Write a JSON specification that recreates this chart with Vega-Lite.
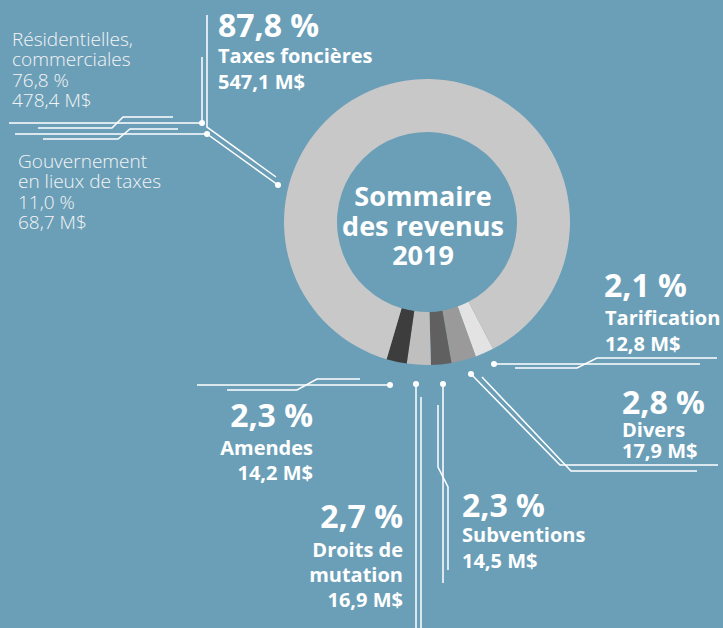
{
  "$schema": "https://vega.github.io/schema/vega-lite/v6.json",
  "width": 592,
  "height": 444,
  "autosize": {"type": "none"},
  "padding": {"left": 131, "top": 0, "right": 0, "bottom": 184},
  "background": "#6b9fb8",
  "config": {"view": {"stroke": null}, "font": "Open Sans"},
  "datasets": {
    "slices": [
      {"k": 1, "cat": "Tarification", "pct": 2.1, "musd": 12.8},
      {"k": 2, "cat": "Divers", "pct": 2.8, "musd": 17.9},
      {"k": 3, "cat": "Subventions", "pct": 2.3, "musd": 14.5},
      {"k": 4, "cat": "Droits de mutation", "pct": 2.7, "musd": 16.9},
      {"k": 5, "cat": "Amendes", "pct": 2.3, "musd": 14.2},
      {"k": 6, "cat": "Taxes foncières", "pct": 87.8, "musd": 547.1}
    ],
    "paths": [
      {"p": 1, "i": 1, "x": 207, "y": 15}, {"p": 1, "i": 2, "x": 207, "y": 127}, {"p": 1, "i": 3, "x": 276, "y": 177},
      {"p": 2, "i": 1, "x": 202, "y": 57}, {"p": 2, "i": 2, "x": 202, "y": 123},
      {"p": 3, "i": 1, "x": 9, "y": 123}, {"p": 3, "i": 2, "x": 202, "y": 123},
      {"p": 4, "i": 1, "x": 15, "y": 134}, {"p": 4, "i": 2, "x": 207, "y": 134}, {"p": 4, "i": 3, "x": 278, "y": 185},
      {"p": 5, "i": 1, "x": 38, "y": 128}, {"p": 5, "i": 2, "x": 112, "y": 128}, {"p": 5, "i": 3, "x": 123, "y": 117}, {"p": 5, "i": 4, "x": 173, "y": 117},
      {"p": 6, "i": 1, "x": 43, "y": 139}, {"p": 6, "i": 2, "x": 118, "y": 139}, {"p": 6, "i": 3, "x": 130, "y": 129}, {"p": 6, "i": 4, "x": 178, "y": 129},
      {"p": 7, "i": 1, "x": 494, "y": 364}, {"p": 7, "i": 2, "x": 700, "y": 364},
      {"p": 8, "i": 1, "x": 515, "y": 368}, {"p": 8, "i": 2, "x": 577, "y": 368}, {"p": 8, "i": 3, "x": 597, "y": 358}, {"p": 8, "i": 4, "x": 717, "y": 358},
      {"p": 9, "i": 1, "x": 471, "y": 374}, {"p": 9, "i": 2, "x": 560, "y": 465}, {"p": 9, "i": 3, "x": 718, "y": 465},
      {"p": 10, "i": 1, "x": 482, "y": 377}, {"p": 10, "i": 2, "x": 571, "y": 471}, {"p": 10, "i": 3, "x": 697, "y": 471},
      {"p": 11, "i": 1, "x": 197, "y": 385}, {"p": 11, "i": 2, "x": 390, "y": 385},
      {"p": 12, "i": 1, "x": 227, "y": 390}, {"p": 12, "i": 2, "x": 297, "y": 390}, {"p": 12, "i": 3, "x": 317, "y": 379}, {"p": 12, "i": 4, "x": 360, "y": 379},
      {"p": 13, "i": 1, "x": 416, "y": 384}, {"p": 13, "i": 2, "x": 416, "y": 628},
      {"p": 14, "i": 1, "x": 421, "y": 397}, {"p": 14, "i": 2, "x": 421, "y": 628},
      {"p": 15, "i": 1, "x": 443, "y": 384}, {"p": 15, "i": 2, "x": 443, "y": 583},
      {"p": 16, "i": 1, "x": 438, "y": 405}, {"p": 16, "i": 2, "x": 438, "y": 467}, {"p": 16, "i": 3, "x": 448, "y": 487}, {"p": 16, "i": 4, "x": 448, "y": 570}
    ],
    "dots": [
      {"x": 202, "y": 123}, {"x": 207, "y": 134}, {"x": 278, "y": 185},
      {"x": 494, "y": 364}, {"x": 471, "y": 374},
      {"x": 390, "y": 385}, {"x": 416, "y": 384}, {"x": 443, "y": 384}
    ],
    "light": [
      {"t": "Résidentielles,\ncommerciales\n76,8 %\n478,4 M$", "x": 12, "y": 46},
      {"t": "Gouvernement\nen lieux de taxes\n11,0 %\n68,7 M$", "x": 18, "y": 168}
    ],
    "pctLeft": [
      {"t": "87,8 %", "x": 218, "y": 37},
      {"t": "2,1 %", "x": 604, "y": 297},
      {"t": "2,8 %", "x": 622, "y": 414},
      {"t": "2,3 %", "x": 462, "y": 517}
    ],
    "pctRight": [
      {"t": "2,3 %", "x": 313, "y": 427},
      {"t": "2,7 %", "x": 403, "y": 528}
    ],
    "subLeft": [
      {"t": "Taxes foncières\n547,1 M$", "x": 218, "y": 63},
      {"t": "Tarification\n12,8 M$", "x": 605, "y": 325},
      {"t": "Subventions\n14,5 M$", "x": 462, "y": 542}
    ],
    "subDivers": [
      {"t": "Divers\n17,9 M$", "x": 622, "y": 437}
    ],
    "subRight": [
      {"t": "Amendes\n14,2 M$", "x": 313, "y": 455},
      {"t": "Droits de\nmutation\n16,9 M$", "x": 403, "y": 557}
    ],
    "title": [
      {"t": "Sommaire\ndes revenus\n2019", "x": 423, "y": 206}
    ]
  },
  "layer": [
    {
      "data": {"name": "slices"},
      "mark": {"type": "arc", "outerRadius": 143, "innerRadius": 90},
      "encoding": {
        "theta": {"field": "pct", "type": "quantitative", "stack": true, "scale": {"domain": [0, 100], "range": [2.6616, 8.9448]}},
        "order": {"field": "k", "type": "quantitative"},
        "color": {
          "field": "cat", "type": "nominal", "legend": null,
          "scale": {
            "domain": ["Tarification", "Divers", "Subventions", "Droits de mutation", "Amendes", "Taxes foncières"],
            "range": ["#e3e3e3", "#9a9a9a", "#606060", "#bfbfbf", "#3d3d3d", "#c8c8c8"]
          }
        }
      }
    },
    {
      "data": {"name": "paths"},
      "mark": {"type": "line", "color": "white", "strokeWidth": 1.5},
      "encoding": {
        "x": {"field": "x", "type": "quantitative", "scale": {"domain": [131, 723], "nice": false, "zero": false}, "axis": null},
        "y": {"field": "y", "type": "quantitative", "scale": {"domain": [0, 444], "nice": false, "zero": false, "reverse": true}, "axis": null},
        "detail": {"field": "p", "type": "nominal"},
        "order": {"field": "i", "type": "quantitative"}
      }
    },
    {
      "data": {"name": "dots"},
      "mark": {"type": "point", "filled": true, "color": "white", "size": 36, "opacity": 1},
      "encoding": {
        "x": {"field": "x", "type": "quantitative"},
        "y": {"field": "y", "type": "quantitative"}
      }
    },
    {
      "data": {"name": "light"},
      "mark": {"type": "text", "align": "left", "baseline": "alphabetic", "fontSize": 19, "fontWeight": 300, "color": "#f4f4f4", "lineBreak": "\n", "lineHeight": 20.3},
      "encoding": {
        "x": {"field": "x", "type": "quantitative"},
        "y": {"field": "y", "type": "quantitative"},
        "text": {"field": "t", "type": "nominal"}
      }
    },
    {
      "data": {"name": "pctLeft"},
      "mark": {"type": "text", "align": "left", "baseline": "alphabetic", "fontSize": 32, "fontWeight": "bold", "color": "white"},
      "encoding": {
        "x": {"field": "x", "type": "quantitative"},
        "y": {"field": "y", "type": "quantitative"},
        "text": {"field": "t", "type": "nominal"}
      }
    },
    {
      "data": {"name": "pctRight"},
      "mark": {"type": "text", "align": "right", "baseline": "alphabetic", "fontSize": 32, "fontWeight": "bold", "color": "white"},
      "encoding": {
        "x": {"field": "x", "type": "quantitative"},
        "y": {"field": "y", "type": "quantitative"},
        "text": {"field": "t", "type": "nominal"}
      }
    },
    {
      "data": {"name": "subLeft"},
      "mark": {"type": "text", "align": "left", "baseline": "alphabetic", "fontSize": 20, "fontWeight": "bold", "color": "white", "lineBreak": "\n", "lineHeight": 26},
      "encoding": {
        "x": {"field": "x", "type": "quantitative"},
        "y": {"field": "y", "type": "quantitative"},
        "text": {"field": "t", "type": "nominal"}
      }
    },
    {
      "data": {"name": "subDivers"},
      "mark": {"type": "text", "align": "left", "baseline": "alphabetic", "fontSize": 20, "fontWeight": "bold", "color": "white", "lineBreak": "\n", "lineHeight": 21},
      "encoding": {
        "x": {"field": "x", "type": "quantitative"},
        "y": {"field": "y", "type": "quantitative"},
        "text": {"field": "t", "type": "nominal"}
      }
    },
    {
      "data": {"name": "subRight"},
      "mark": {"type": "text", "align": "right", "baseline": "alphabetic", "fontSize": 20, "fontWeight": "bold", "color": "white", "lineBreak": "\n", "lineHeight": 25},
      "encoding": {
        "x": {"field": "x", "type": "quantitative"},
        "y": {"field": "y", "type": "quantitative"},
        "text": {"field": "t", "type": "nominal"}
      }
    },
    {
      "data": {"name": "title"},
      "mark": {"type": "text", "align": "center", "baseline": "alphabetic", "fontSize": 27, "fontWeight": "bold", "color": "white", "lineBreak": "\n", "lineHeight": 29.5},
      "encoding": {
        "x": {"field": "x", "type": "quantitative"},
        "y": {"field": "y", "type": "quantitative"},
        "text": {"field": "t", "type": "nominal"}
      }
    }
  ]
}
